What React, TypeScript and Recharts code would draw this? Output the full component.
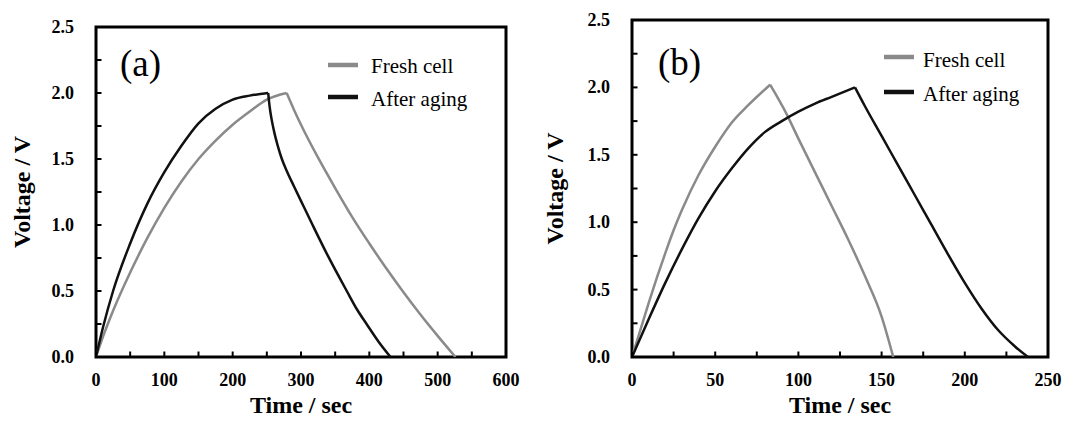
import React from 'react';
import { LineChart, Line, XAxis, YAxis, Label, ReferenceArea } from 'recharts';

/**
 * Charge/discharge curves, fresh cell vs after aging — two panels (a) and (b)
 */

// panel (a): charge and discharge branches kept apart so the peaks stay sharp
const tFreshChargeA = [0, 10, 25, 50, 75, 100, 125, 150, 175, 200, 225, 250, 279];
const vFreshChargeA = [0, 0.15, 0.35, 0.64, 0.9, 1.13, 1.33, 1.5, 1.64, 1.76, 1.86, 1.95, 2.0];
const tFreshDischargeA = [279, 290, 300, 325, 350, 375, 400, 425, 450, 475, 500, 526];
const vFreshDischargeA = [2.0, 1.87, 1.76, 1.51, 1.28, 1.06, 0.86, 0.67, 0.49, 0.32, 0.16, 0];
const tAgedChargeA = [0, 10, 25, 50, 75, 100, 125, 150, 175, 200, 225, 252];
const vAgedChargeA = [0, 0.22, 0.5, 0.86, 1.16, 1.4, 1.6, 1.77, 1.88, 1.95, 1.98, 2.0];
const tAgedDischargeA = [252, 254, 257, 261, 266, 272, 280, 290, 303, 317, 340, 367, 382, 396, 413, 431];
const vAgedDischargeA = [2.0, 1.9, 1.8, 1.7, 1.6, 1.5, 1.4, 1.29, 1.15, 1.0, 0.76, 0.5, 0.36, 0.25, 0.12, 0];

// panel (b)
const tFreshChargeB = [0, 5, 10, 15, 20, 25, 30, 40, 50, 60, 70, 83];
const vFreshChargeB = [0, 0.2, 0.4, 0.59, 0.77, 0.94, 1.09, 1.35, 1.56, 1.74, 1.87, 2.02];
const tFreshDischargeB = [83, 93, 100, 110, 120, 130, 140, 150, 157];
const vFreshDischargeB = [2.02, 1.8, 1.62, 1.37, 1.12, 0.87, 0.6, 0.3, 0];
const tAgedChargeB = [0, 10, 20, 30, 40, 50, 60, 70, 80, 90, 100, 110, 120, 134];
const vAgedChargeB = [0, 0.28, 0.55, 0.8, 1.03, 1.23, 1.4, 1.55, 1.67, 1.75, 1.82, 1.88, 1.93, 2.0];
const tAgedDischargeB = [134, 140, 150, 160, 170, 180, 190, 200, 210, 220, 230, 238];
const vAgedDischargeB = [2.0, 1.86, 1.64, 1.42, 1.2, 0.98, 0.76, 0.55, 0.36, 0.2, 0.08, 0];

const xTicksA = [0, 50, 100, 150, 200, 250, 300, 350, 400, 450, 500, 550, 600];
const xTicksB = [0, 25, 50, 75, 100, 125, 150, 175, 200, 225, 250];
const yTicks = [0, 0.25, 0.5, 0.75, 1, 1.25, 1.5, 1.75, 2, 2.25, 2.5];

const SERIF = '"Liberation Serif", "Times New Roman", Times, serif';
const GRAY = '#8a8a8a';
const BLACK = '#111111';

type Pt = { t: number; v: number };
const zip = (ts: number[], vs: number[]): Pt[] => ts.map((t, i) => ({ t, v: vs[i] }));

const boldText: React.CSSProperties = { fontFamily: SERIF, fontWeight: 700 };
const TICK_LEN = 5.5;

// inward tick marks, label only on the major ones
const renderXTick = (labelEvery: number) => (p: any) => {
  const v = p.payload.value;
  return (
    <g>
      <line x1={p.x} x2={p.x} y1={p.y} y2={p.y - TICK_LEN} stroke='#000' strokeWidth={2} />
      {v % labelEvery === 0 && (
        <text x={p.x} y={p.y + 29} textAnchor='middle' fontSize={18} fill='#000' style={boldText}>
          {v}
        </text>
      )}
    </g>
  );
};

const renderYTick = (p: any) => {
  const v = p.payload.value;
  const major = Math.round(v * 100) % 50 === 0;
  return (
    <g>
      <line x1={p.x} x2={p.x + TICK_LEN} y1={p.y} y2={p.y} stroke='#000' strokeWidth={2} />
      {major && (
        <text x={p.x - 22} y={p.y + 6} textAnchor='end' fontSize={18} fill='#000' style={boldText}>
          {v.toFixed(1)}
        </text>
      )}
    </g>
  );
};

type PanelProps = {
  left: number;
  top: number;
  width: number;
  right: number;
  xMax: number;
  xTicks: number[];
  xLabelEvery: number;
  fresh: Pt[][];
  aged: Pt[][];
  yAxisWidth: number;
  yLabelX: number;
};

function Panel({ left, top, width, right, xMax, xTicks, xLabelEvery, fresh, aged, yAxisWidth, yLabelX }: PanelProps) {
  const series = [...fresh.map((d) => ({ d, color: GRAY })), ...aged.map((d) => ({ d, color: BLACK }))];
  return (
    <div style={{ position: 'absolute', left, top: 0 }}>
      <LineChart width={width} height={426} margin={{ top, right, bottom: 0, left: 0 }}>
        <XAxis
          type='number'
          dataKey='t'
          domain={[0, xMax]}
          ticks={xTicks}
          interval={0}
          height={69}
          tickSize={0}
          tickMargin={0}
          axisLine={false}
          tickLine={false}
          tick={renderXTick(xLabelEvery)}
          allowDataOverflow>
          <Label
            content={({ viewBox }: any) => (
              <text
                x={viewBox.x + viewBox.width / 2}
                y={viewBox.y + 56}
                textAnchor='middle'
                fontSize={24}
                fill='#000'
                style={boldText}>
                Time / sec
              </text>
            )}
          />
        </XAxis>
        <YAxis
          type='number'
          domain={[0, 2.5]}
          ticks={yTicks}
          interval={0}
          width={yAxisWidth}
          tickSize={0}
          tickMargin={0}
          axisLine={false}
          tickLine={false}
          tick={renderYTick}
          allowDataOverflow>
          <Label
            content={({ viewBox }: any) => {
              const cx = viewBox.x + yLabelX;
              const cy = viewBox.y + viewBox.height / 2;
              return (
                <text
                  x={cx}
                  y={cy}
                  transform={`rotate(-90 ${cx} ${cy})`}
                  textAnchor='middle'
                  dominantBaseline='central'
                  fontSize={24}
                  fill='#000'
                  style={boldText}>
                  Voltage / V
                </text>
              );
            }}
          />
        </YAxis>
        {/* plot frame */}
        <ReferenceArea
          x1={0}
          x2={xMax}
          y1={0}
          y2={2.5}
          ifOverflow='visible'
          shape={(p: any) => <rect x={p.x} y={p.y} width={p.width} height={p.height} fill='none' stroke='#000' strokeWidth={3} />}
        />
        {series.map((s, i) => (
          <Line
            key={i}
            data={s.d}
            dataKey='v'
            type='monotone'
            stroke={s.color}
            strokeWidth={2.5}
            dot={false}
            activeDot={false}
            isAnimationActive={false}
          />
        ))}
      </LineChart>
    </div>
  );
}

// panel tag + legend, drawn over each panel
function Annotations({ tag, tagX, tagY, lx, ly1, ly2, tx, ty1, ty2 }: any) {
  return (
    <g style={{ fontFamily: SERIF }} fill='#000'>
      <text x={tagX} y={tagY} fontSize={37}>
        {tag}
      </text>
      <line x1={lx} x2={lx + 30} y1={ly1} y2={ly1} stroke={GRAY} strokeWidth={4.5} />
      <text x={tx} y={ty1} fontSize={21}>
        Fresh cell
      </text>
      <line x1={lx} x2={lx + 30} y1={ly2} y2={ly2} stroke={BLACK} strokeWidth={4.5} />
      <text x={tx} y={ty2} fontSize={21}>
        After aging
      </text>
    </g>
  );
}

export default function App() {
  return (
    <div style={{ position: 'absolute', left: 0, top: 0, width: 1065, height: 426, background: '#fff' }}>
      <Panel
        left={0}
        top={27}
        width={540}
        right={34}
        xMax={600}
        xTicks={xTicksA}
        xLabelEvery={100}
        fresh={[zip(tFreshChargeA, vFreshChargeA), zip(tFreshDischargeA, vFreshDischargeA)]}
        aged={[zip(tAgedChargeA, vAgedChargeA), zip(tAgedDischargeA, vAgedDischargeA)]}
        yAxisWidth={96}
        yLabelX={22}
      />
      <Panel
        left={535}
        top={20}
        width={530}
        right={17}
        xMax={250}
        xTicks={xTicksB}
        xLabelEvery={50}
        fresh={[zip(tFreshChargeB, vFreshChargeB), zip(tFreshDischargeB, vFreshDischargeB)]}
        aged={[zip(tAgedChargeB, vAgedChargeB), zip(tAgedDischargeB, vAgedDischargeB)]}
        yAxisWidth={97}
        yLabelX={20}
      />
      <svg width={1065} height={426} style={{ position: 'absolute', left: 0, top: 0, pointerEvents: 'none' }}>
        <Annotations tag='(a)' tagX={120} tagY={76} lx={328} ly1={65} ly2={97} tx={371} ty1={73} ty2={106} />
        <Annotations tag='(b)' tagX={658} tagY={75} lx={884} ly1={57} ly2={92} tx={923} ty1={67} ty2={101} />
      </svg>
    </div>
  );
}
